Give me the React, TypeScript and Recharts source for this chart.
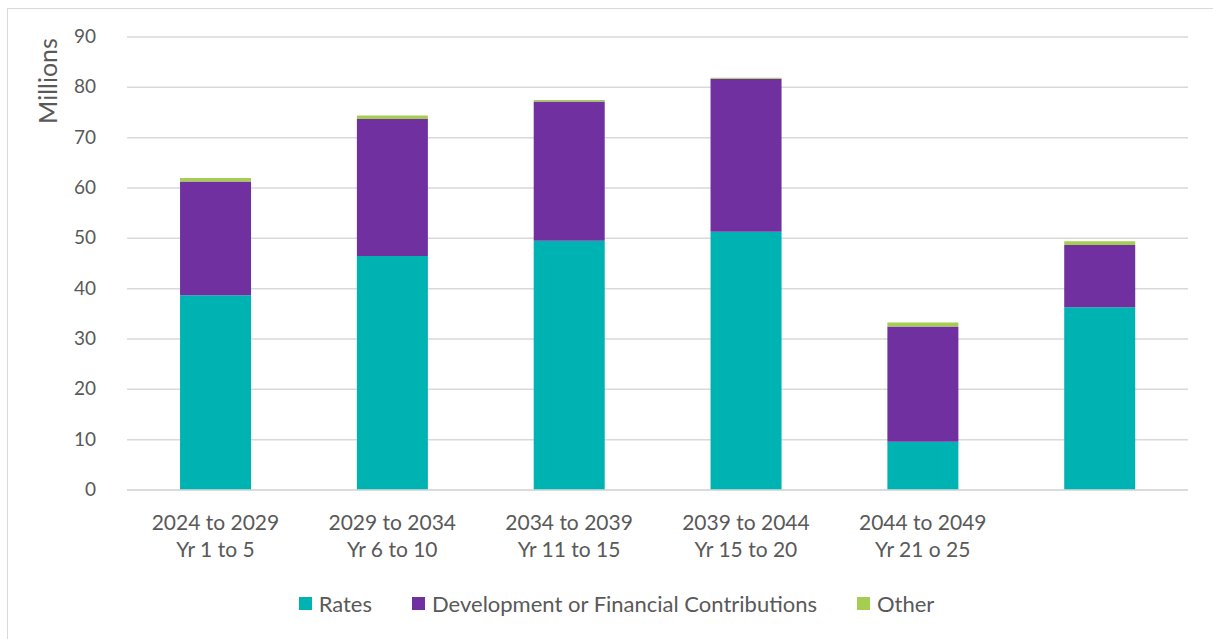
import React from "react";
import { BarChart, Bar, XAxis, YAxis, CartesianGrid, Legend } from "recharts";

const periods = ["2024 to 2029", "2029 to 2034", "2034 to 2039", "2039 to 2044", "2044 to 2049", ""];
const yearRanges = ["Yr 1 to 5", "Yr 6 to 10", "Yr 11 to 15", "Yr 15 to 20", "Yr 21 o 25", ""];
const rates = [38.7, 46.5, 49.5, 51.3, 9.6, 36.3];
const contributions = [22.6, 27.2, 27.7, 30.4, 22.9, 12.4];
const other = [0.7, 0.7, 0.3, 0.2, 0.8, 0.7];
const yTicks = [0, 10, 20, 30, 40, 50, 60, 70, 80, 90];

const seriesNames = ["Rates", "Development or Financial Contributions", "Other"];
const seriesColors = ["#00B3B3", "#7030A0", "#A4CD52"];

const data = periods.map((p, i) => ({
  key: String(i),
  period: p,
  years: yearRanges[i],
  rates: rates[i],
  contributions: contributions[i],
  other: other[i],
}));

const FONT = "Lato, 'Open Sans', sans-serif";
const TEXT = "#595959";

const XTick = (props: any) => {
  const { x, y, payload } = props;
  const d = data[Number(payload.value)];
  return (
    <text x={x} y={y} textAnchor="middle" fill={TEXT} fontSize={21} fontFamily={FONT}>
      <tspan x={x} dy={32}>{d.period}</tspan>
      <tspan x={x} dy={27}>{d.years}</tspan>
    </text>
  );
};

const YTick = (props: any) => {
  const { y, payload } = props;
  return (
    <text x={96} y={y} dy={6} textAnchor="end" fill={TEXT} fontSize={19} fontFamily={FONT}>
      {payload.value}
    </text>
  );
};

const LegendContent = () => (
  <div style={{ display: "flex", justifyContent: "center", alignItems: "center", height: 36, fontFamily: FONT, fontSize: 22, color: TEXT, paddingLeft: 45 }}>
    {seriesNames.map((n, i) => (
      <div key={n} style={{ display: "flex", alignItems: "center", marginLeft: i === 0 ? 0 : 40 }}>
        <span style={{ display: "inline-block", width: 13, height: 13, background: seriesColors[i], marginRight: 7 }} />
        <span>{n}</span>
      </div>
    ))}
  </div>
);

export default function App() {
  return (
    <div style={{ position: "absolute", left: 0, top: 0, width: 1213, height: 639, background: "#fff" }}>
      <div style={{ position: "absolute", left: 7, top: 8, right: 0, bottom: 0, borderTop: "1.5px solid #d9d9d9", borderLeft: "1.5px solid #d9d9d9" }} />
      <BarChart
        width={1213}
        height={639}
        data={data}
        margin={{ top: 37, right: 25, left: 0, bottom: 18 }}
        barCategoryGap="30%"
        style={{ position: "absolute", left: 0, top: 0 }}
      >
        <CartesianGrid vertical={false} stroke="#d9d9d9" strokeWidth={1.5} />
        <XAxis
          dataKey="key"
          height={95}
          tick={<XTick />}
          tickLine={false}
          axisLine={{ stroke: "#d9d9d9", strokeWidth: 1.5 }}
          interval={0}
        />
        <YAxis
          width={127}
          domain={[0, 90]}
          ticks={yTicks}
          tick={<YTick />}
          tickLine={false}
          axisLine={false}
        />
        <Legend verticalAlign="bottom" height={36} content={<LegendContent />} />
        <Bar dataKey="rates" stackId="a" fill={seriesColors[0]} isAnimationActive={false} />
        <Bar dataKey="contributions" stackId="a" fill={seriesColors[1]} isAnimationActive={false} />
        <Bar dataKey="other" stackId="a" fill={seriesColors[2]} isAnimationActive={false} />
      </BarChart>
      <div
        style={{
          position: "absolute",
          left: 47,
          top: 81,
          transform: "translate(-50%, -50%) rotate(-90deg)",
          fontFamily: FONT,
          fontSize: 25,
          color: TEXT,
          whiteSpace: "nowrap",
          lineHeight: 1,
        }}
      >
        Millions
      </div>
    </div>
  );
}
